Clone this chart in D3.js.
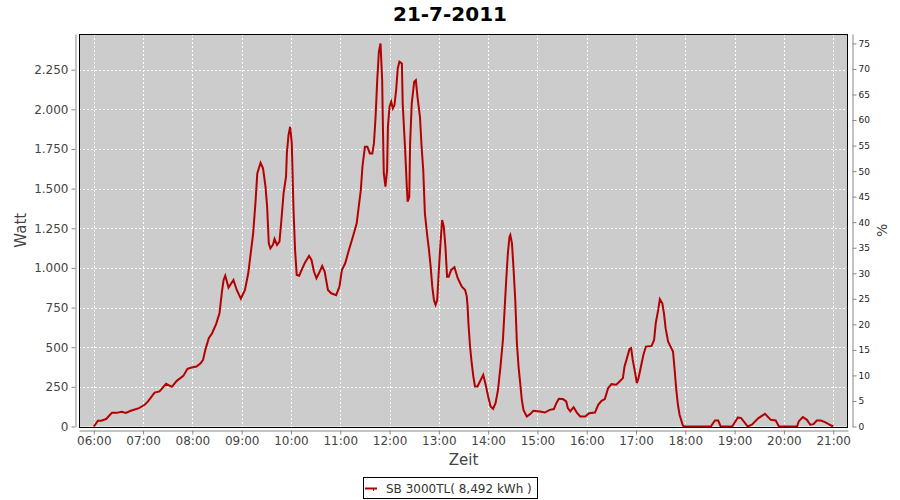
<!DOCTYPE html>
<html>
<head>
<meta charset="utf-8">
<script src="https://cdn.jsdelivr.net/npm/d3@7"></script>
<style>
  html, body { margin: 0; padding: 0; background: #fff; }
  svg { display: block; font-family: "DejaVu Sans", sans-serif; }
</style>
</head>
<body>
<svg id="chart" width="900" height="500"></svg>
<script>
// ---- data ----
const chartTitle = "21-7-2011";
const seriesName = "SB 3000TL( 8,492 kWh )";
const times = [
  "06:00","06:05","06:09","06:15","06:22","06:28","06:34","06:39","06:45","06:55",
  "07:02","07:06","07:14","07:20","07:28","07:35","07:41","07:49","07:54","07:59",
  "08:05","08:10","08:13","08:16","08:20","08:24","08:29","08:33","08:36","08:38",
  "08:40","08:44","08:50","08:54","08:59","09:04","09:08","09:11","09:14","09:17",
  "09:19","09:23","09:26","09:29","09:31","09:33","09:35","09:38","09:40","09:43",
  "09:46","09:48","09:51","09:54","09:55","09:57","09:59","10:01","10:03","10:05",
  "10:07","10:10","10:13","10:17","10:22","10:25","10:28","10:31","10:34","10:38",
  "10:41","10:45","10:49","10:55","10:59","11:02","11:06","11:10","11:16","11:20",
  "11:23","11:25","11:27","11:30","11:33","11:36","11:39","11:41","11:43","11:45",
  "11:47","11:49","11:51","11:52","11:53","11:55","11:57","11:58","12:00","12:02",
  "12:04","12:06","12:08","12:10","12:12","12:15","12:16","12:19","12:21","12:22",
  "12:24","12:25","12:27","12:30","12:32","12:34","12:37","12:39","12:41","12:43",
  "12:46","12:48","12:50","12:52","12:54","12:56","12:58","13:00","13:02","13:04",
  "13:06","13:08","13:10","13:12","13:15","13:19","13:23","13:28","13:32","13:34",
  "13:35","13:36","13:38","13:40","13:42","13:44","13:47","13:50","13:54","13:57",
  "14:00","14:03","14:06","14:09","14:12","14:15","14:18","14:20","14:22","14:24",
  "14:26","14:27","14:29","14:31","14:33","14:35","14:37","14:39","14:41","14:43",
  "14:47","14:51","14:55","15:03","15:09","15:15","15:20","15:23","15:26","15:31",
  "15:35","15:37","15:40","15:44","15:48","15:52","15:58","16:03","16:10","16:14",
  "16:18","16:22","16:26","16:30","16:36","16:40","16:44","16:46","16:49","16:52",
  "16:54","16:56","16:59","17:01","17:03","17:06","17:09","17:12","17:19","17:22",
  "17:24","17:27","17:29","17:32","17:34","17:36","17:39","17:42","17:45","17:47",
  "17:49","17:51","17:53","17:57","17:59","18:31","18:36","18:40","18:43","18:57",
  "19:04","19:08","19:16","19:21","19:29","19:37","19:44","19:50","19:54","20:16",
  "20:18","20:23","20:28","20:32","20:36","20:40","20:45","20:50","20:56","21:00"
];
const watts = [
  0,36,36,47,86,86,93,86,99,116,
  137,158,214,221,269,250,288,319,364,372,
  378,399,420,488,557,588,647,714,851,924,
  951,876,924,861,806,861,966,1092,1218,1428,
  1596,1663,1628,1512,1386,1155,1124,1145,1183,1145,
  1166,1281,1470,1575,1722,1838,1890,1785,1386,1113,
  956,951,987,1033,1075,1050,977,935,966,1012,
  977,861,840,828,882,987,1029,1103,1208,1281,
  1407,1491,1638,1764,1764,1722,1722,1785,1953,2184,
  2363,2415,2184,1869,1596,1512,1617,1890,2016,2048,
  2006,2027,2121,2258,2300,2289,2037,1743,1512,1418,
  1449,1785,2037,2174,2184,2079,1953,1764,1617,1344,
  1197,1113,1008,882,798,767,798,987,1155,1302,
  1260,1134,945,945,987,1004,935,882,861,819,
  756,651,504,399,315,252,252,284,326,263,
  189,126,112,147,231,378,546,735,924,1092,
  1197,1208,1155,987,798,525,378,273,168,105,
  63,78,99,95,88,105,110,147,175,173,
  158,116,95,122,88,63,63,84,88,137,
  162,173,242,267,263,284,305,378,431,488,
  494,420,336,273,305,378,452,504,508,546,
  651,735,803,777,714,620,536,504,473,357,
  231,137,74,6,0,0,38,38,0,0,
  57,53,0,11,53,80,42,38,0,0,
  32,59,42,11,15,38,38,28,11,0
];
const wattTicks = [0,250,500,750,1000,1250,1500,1750,2000,2250];
const percentTicks = [0,5,10,15,20,25,30,35,40,45,50,55,60,65,70,75];
const hourTicks = ["06:00","07:00","08:00","09:00","10:00","11:00","12:00","13:00",
                   "14:00","15:00","16:00","17:00","18:00","19:00","20:00","21:00"];
const xDomain = ["05:42","21:18"];
const wattMax = 2475;
const percentMax = 76.85;

// ---- layout ----
const L = 79, R = 848, T = 34, B = 426.5;
const parseT = d3.timeParse("%H:%M");
const fmtT = d3.timeFormat("%H:%M");
const de = d3.formatLocale({decimal: ",", thousands: ".", grouping: [3], currency: ["", "€"]});
const fmtW = de.format(",d");

const svg = d3.select("#chart");
const x = d3.scaleTime().domain(xDomain.map(parseT)).range([L, R]);
const y = d3.scaleLinear().domain([0, wattMax]).range([B, T]);
const yP = d3.scaleLinear().domain([0, percentMax]).range([B, T]);

// plot background
svg.append("rect").attr("x", L).attr("y", T).attr("width", R - L).attr("height", B - T)
  .attr("fill", "#cccccc");

// gridlines
const grid = svg.append("g").attr("stroke", "#fff").attr("stroke-width", 1)
  .attr("stroke-dasharray", "2,2").attr("shape-rendering", "crispEdges");
grid.selectAll("line.h").data(wattTicks.filter(d => d > 0)).join("line")
  .attr("x1", L).attr("x2", R)
  .attr("y1", d => Math.round(y(d)) + 0.5).attr("y2", d => Math.round(y(d)) + 0.5);
grid.selectAll("line.v").data(hourTicks.map(parseT)).join("line")
  .attr("y1", T).attr("y2", B)
  .attr("x1", d => Math.round(x(d)) + 0.5).attr("x2", d => Math.round(x(d)) + 0.5);

// series line
const pts = times.map((t, i) => ({t: parseT(t), w: watts[i]}));
svg.append("path").datum(pts)
  .attr("fill", "none").attr("stroke", "#b40000").attr("stroke-width", 2)
  .attr("stroke-linejoin", "miter")
  .attr("d", d3.line().x(d => x(d.t)).y(d => y(d.w)));

// plot border
svg.append("rect").attr("x", L + 0.5).attr("y", T + 0.5).attr("width", R - L - 1).attr("height", B - T)
  .attr("fill", "none").attr("stroke", "#000").attr("stroke-width", 1).attr("shape-rendering", "crispEdges");

// axes
function styleAxis(g, color, size) {
  g.select(".domain").attr("stroke", "#888");
  g.selectAll(".tick line").attr("stroke", "#888");
  g.selectAll(".tick text").attr("fill", color).attr("font-size", size)
    .attr("font-family", "DejaVu Sans, sans-serif");
}
const gL = svg.append("g").attr("transform", "translate(75.5,0)")
  .call(d3.axisLeft(y).tickValues(wattTicks).tickFormat(fmtW).tickSize(4).tickSizeOuter(0).tickPadding(3));
styleAxis(gL, "#444", 12);

const gB = svg.append("g").attr("transform", "translate(0,430.5)")
  .call(d3.axisBottom(x).tickValues(hourTicks.map(parseT)).tickFormat(fmtT).tickSize(4).tickSizeOuter(0).tickPadding(2));
styleAxis(gB, "#444", 12);

const gR = svg.append("g").attr("transform", "translate(852.5,0)")
  .call(d3.axisRight(yP).tickValues(percentTicks).tickSize(4).tickSizeOuter(0).tickPadding(2));
styleAxis(gR, "#222", 9);

// titles
svg.append("text").attr("x", 450).attr("y", 21).attr("text-anchor", "middle")
  .attr("font-size", 20).attr("font-weight", "bold").attr("fill", "#000").text(chartTitle);
svg.append("text").attr("x", (L + R) / 2).attr("y", 465).attr("text-anchor", "middle")
  .attr("font-size", 15).attr("fill", "#444").text("Zeit");
svg.append("text").attr("transform", `translate(26,${(T + B) / 2}) rotate(-90)`)
  .attr("text-anchor", "middle").attr("font-size", 15).attr("fill", "#444").text("Watt");
svg.append("text").attr("transform", `translate(887,${(T + B) / 2}) rotate(-90)`)
  .attr("text-anchor", "middle").attr("font-size", 14).attr("fill", "#444").text("%");

// legend
const lg = svg.append("g");
lg.append("rect").attr("x", 363.5).attr("y", 477.5).attr("width", 174).attr("height", 21)
  .attr("fill", "#fff").attr("stroke", "#000").attr("stroke-width", 1);
lg.append("line").attr("x1", 365).attr("x2", 377).attr("y1", 488.5).attr("y2", 488.5)
  .attr("stroke", "#b40000").attr("stroke-width", 2);
lg.append("line").attr("x1", 373.5).attr("x2", 373.5).attr("y1", 488).attr("y2", 491)
  .attr("stroke", "#b40000").attr("stroke-width", 1);
lg.append("text").attr("x", 386).attr("y", 493).attr("font-size", 12).attr("fill", "#333")
  .text(seriesName);
</script>
</body>
</html>
